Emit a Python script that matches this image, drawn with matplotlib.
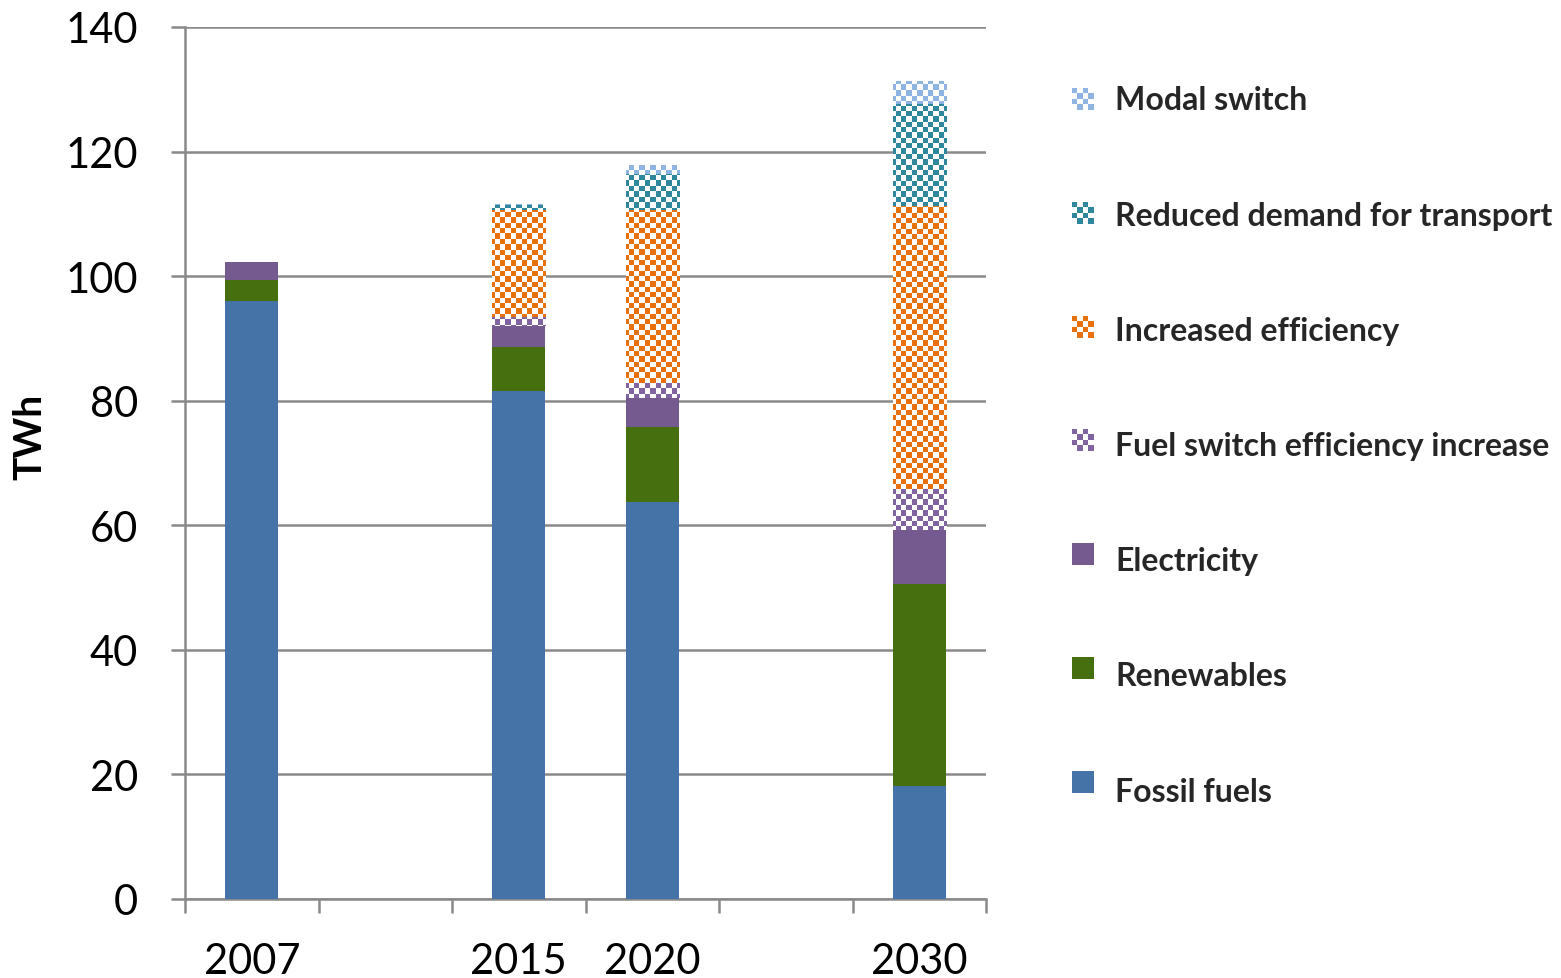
import numpy as np
import matplotlib.pyplot as plt
from matplotlib.patches import Rectangle
from matplotlib.colors import to_rgb

plt.rcParams['font.family'] = ['Lato', 'DejaVu Sans']

# energy use in transport, TWh
years = ['2007', '', '2015', '2020', '', '2030']
fossil = [96.0, 0, 81.6, 63.7, 0, 18.1]
renewables = [3.4, 0, 7.0, 12.0, 0, 32.4]
electricity = [2.9, 0, 3.4, 4.7, 0, 8.7]
fuel_switch = [0, 0, 1.4, 2.4, 0, 6.6]
efficiency = [0, 0, 17.2, 27.8, 0, 45.4]
reduced_demand = [0, 0, 0.8, 5.8, 0, 16.4]
modal_switch = [0, 0, 0.2, 1.4, 0, 3.7]

# name, values, colour, checkered?
series = [
    ('Fossil fuels', fossil, '#4573a7', False),
    ('Renewables', renewables, '#46700f', False),
    ('Electricity', electricity, '#745a8e', False),
    ('Fuel switch efficiency increase', fuel_switch, '#8064a2', True),
    ('Increased efficiency', efficiency, '#e8710d', True),
    ('Reduced demand for transport', reduced_demand, '#2e879d', True),
    ('Modal switch', modal_switch, '#8eb4e3', True),
]

GRAY = '#898989'
W, H = 1561, 979


def checker(color, nx, ny):
    img = np.ones((ny, nx, 3))
    mask = np.add.outer(np.arange(ny), np.arange(nx)) % 2 == 0
    img[mask] = to_rgb(color)
    return img


fig = plt.figure(figsize=(W / 100, H / 100), dpi=100)
ax = fig.add_axes([185 / W, 1 - 900 / H, 801 / W, 872 / H])

x = np.arange(len(years))
xlim = (-0.5, len(years) - 0.5)
ylim = (0, 140)
bottom = np.zeros(len(years))
for name, vals, color, checked in series:
    vals = np.array(vals, dtype=float)
    if not checked:
        ax.bar(x, vals, 0.4, bottom=bottom, color=color, linewidth=0, zorder=3)
    else:
        bars = ax.bar(x, vals, 0.4, bottom=bottom, color='white', linewidth=0, zorder=3)
        pattern = checker(color, 150, 164)
        for rect, v in zip(bars, vals):
            if v <= 0:
                continue
            im = ax.imshow(pattern, extent=(*xlim, *ylim), origin='lower',
                           aspect='auto', interpolation='nearest', zorder=3.5)
            im.set_clip_path(rect)
    bottom += vals

ax.set_xlim(*xlim)
ax.set_ylim(*ylim)

# grid and axes styling
ax.set_yticks(np.arange(0, 141, 20))
ax.yaxis.grid(True, color=GRAY, linewidth=1.8, zorder=0)
ax.set_axisbelow(True)
for side in ['top', 'right']:
    ax.spines[side].set_visible(False)
for side in ['left', 'bottom']:
    ax.spines[side].set_color(GRAY)
    ax.spines[side].set_linewidth(1.8)

ax.set_xticks(np.arange(-0.5, len(years)), labels=[])
ax.set_xticks(x, labels=years, minor=True)
ax.tick_params(axis='x', which='major', length=10, width=1.8, color=GRAY)
ax.tick_params(axis='x', which='minor', length=0, pad=31, labelsize=30)
ax.tick_params(axis='y', length=10, width=1.8, color=GRAY, pad=24, labelsize=30)

fig.text(30 / W, 1 - 437 / H, 'TWh', rotation=90, fontsize=28, fontweight='bold',
         ha='center', va='center')

# legend drawn on an overlay in pixel coordinates
lax = fig.add_axes([0, 0, 1, 1])
lax.set_axis_off()
for i, (name, vals, color, checked) in enumerate(reversed(series)):
    ys = 100 + i * 113.8
    if checked:
        lax.imshow(checker(color, 4, 4), extent=(1072, 1094, ys + 11, ys - 11),
                   origin='upper', aspect='auto', interpolation='nearest')
    else:
        lax.add_patch(Rectangle((1072, ys - 11), 22, 22, color=color, linewidth=0))
    lax.text(1115, 101 + i * 115.2, name, fontsize=23, fontweight='bold',
             color='#262626', ha='left', va='center')
lax.set_xlim(0, W)
lax.set_ylim(H, 0)

fig.savefig('out.png', dpi=100)
